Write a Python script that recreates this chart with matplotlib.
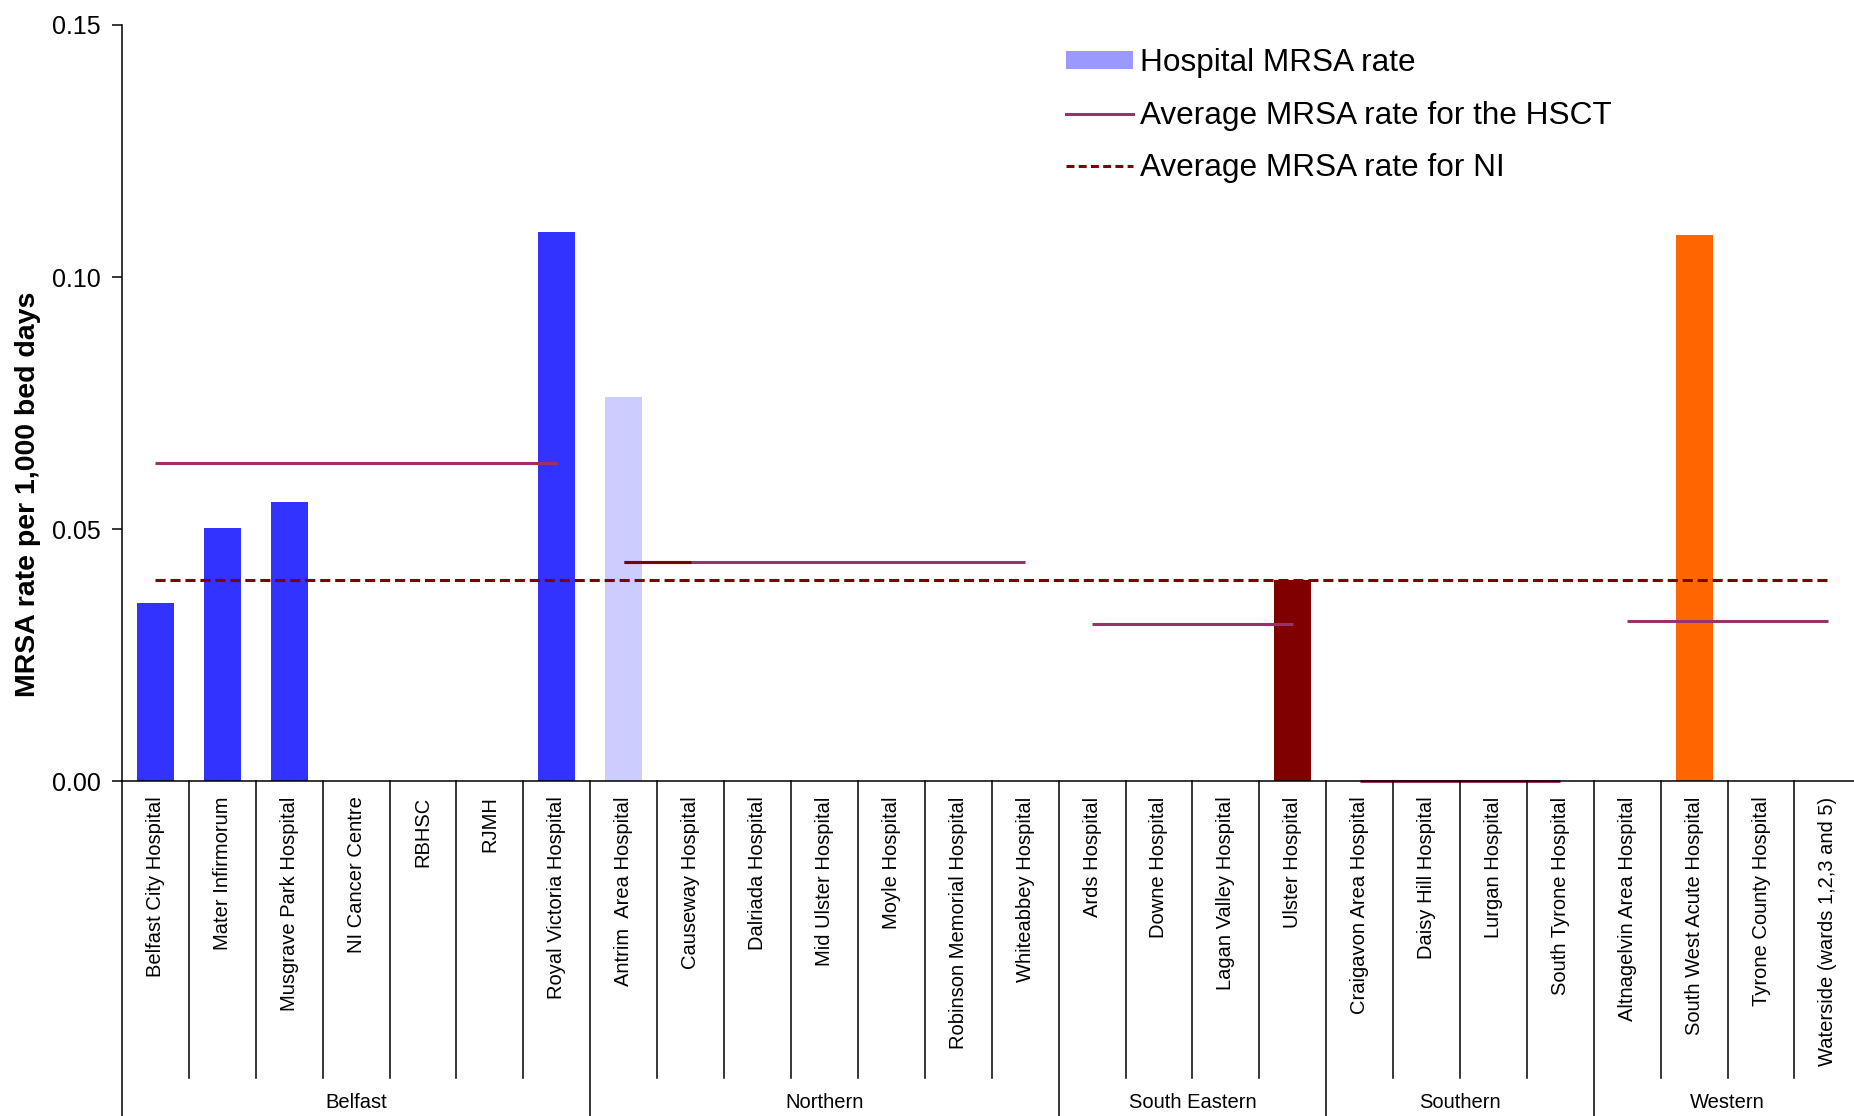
import matplotlib
matplotlib.use('Agg')
import matplotlib.pyplot as plt
from matplotlib.patches import Patch
from matplotlib.lines import Line2D
import numpy as np

plt.rcParams['font.family'] = ['Liberation Sans', 'DejaVu Sans']

# hospitals grouped by trust
trusts = ['Belfast', 'Northern', 'South Eastern', 'Southern', 'Western']
hospitals = [
    ['Belfast City Hospital', 'Mater Infirmorum', 'Musgrave Park Hospital',
     'NI Cancer Centre', 'RBHSC', 'RJMH', 'Royal Victoria Hospital'],
    ['Antrim  Area Hospital', 'Causeway Hospital', 'Dalriada Hospital',
     'Mid Ulster Hospital', 'Moyle Hospital', 'Robinson Memorial Hospital',
     'Whiteabbey Hospital'],
    ['Ards Hospital', 'Downe Hospital', 'Lagan Valley Hospital', 'Ulster Hospital'],
    ['Craigavon Area Hospital', 'Daisy Hill Hospital', 'Lurgan Hospital',
     'South Tyrone Hospital'],
    ['Altnagelvin Area Hospital', 'South West Acute Hospital',
     'Tyrone County Hospital', 'Waterside (wards 1,2,3 and 5)'],
]
# MRSA rate per 1,000 bed days
rates = [
    [0.0354, 0.0502, 0.0553, 0, 0, 0, 0.1090],
    [0.0763, 0, 0, 0, 0, 0, 0],
    [0, 0, 0, 0.0400],
    [0, 0, 0, 0],
    [0, 0.1083, 0, 0],
]
hsct_avg = [0.0631, 0.0435, 0.0312, 0.0, 0.0318]
ni_avg = 0.0399

trust_colors = ['#3333FF', '#CCCCFF', '#800000', '#993366', '#FF6600']
hsct_color = '#993366'
ni_color = '#800000'

# flatten
names = [h for grp in hospitals for h in grp]
values = [v for grp in rates for v in grp]
bar_colors = [trust_colors[i] for i, grp in enumerate(hospitals) for _ in grp]
n = len(names)
x = np.arange(n) + 0.5

fig = plt.figure(figsize=(18.54, 11.16), dpi=100)
W, H = 1854, 1116
ax_left, ax_bottom_px, ax_top_px = 122, 781.3, 25
cat_w = 66.9
ax = fig.add_axes([ax_left / W, 1 - ax_bottom_px / H, n * cat_w / W,
                   (ax_bottom_px - ax_top_px) / H])
ax_h = ax_bottom_px - ax_top_px

ax.bar(x, values, width=0.55, color=bar_colors, zorder=2)

# trust averages
start = 0
for i, grp in enumerate(hospitals):
    xs = x[start:start + len(grp)]
    ax.plot([xs[0], xs[-1]], [hsct_avg[i]] * 2, color=hsct_color, lw=2.2,
            zorder=3 if hsct_avg[i] > 0 else 1, clip_on=False,
            solid_capstyle='butt')
    start += len(grp)
# first segment of the Northern line is drawn darker
ax.plot([x[7], x[8]], [hsct_avg[1]] * 2, color='#800000', lw=2.2, zorder=3,
        solid_capstyle='butt')

# NI average
ax.plot([x[0], x[-1]], [ni_avg] * 2, color=ni_color, lw=2.2,
        dashes=(3.3, 1.6), zorder=4)

ax.set_xlim(0, n)
ax.set_ylim(0, 0.15)
ax.set_yticks([0, 0.05, 0.10, 0.15])
ax.set_yticklabels(['0.00', '0.05', '0.10', '0.15'], fontsize=18)
ax.tick_params(axis='y', length=7.2, width=1.1, pad=8)
ax.set_xticks(x)
ax.set_xticklabels(names, rotation=90, fontsize=14.5)
ax.tick_params(axis='x', length=0, pad=11)
for s in ['top', 'right']:
    ax.spines[s].set_visible(False)
ax.spines['left'].set_linewidth(1.1)
ax.spines['bottom'].set_linewidth(1.1)
ax.spines['bottom'].set_zorder(2.5)

# category separators and trust group boundaries
trans = ax.get_xaxis_transform()
inner_low = -(1078 - ax_bottom_px) / ax_h
outer_low = -(1120 - ax_bottom_px) / ax_h
bounds = np.cumsum([0] + [len(g) for g in hospitals])
for b in range(n + 1):
    low = outer_low if b in bounds else inner_low
    ax.plot([b, b], [0, low], color='black', lw=1.1, transform=trans,
            clip_on=False)

label_y = -(1103 - ax_bottom_px) / ax_h
for i, t in enumerate(trusts):
    cx = (bounds[i] + bounds[i + 1]) / 2
    ax.text(cx, label_y, t, transform=trans, ha='center', va='center',
            fontsize=14.5)

fig.text(28 / W, 1 - 494 / H, 'MRSA rate per 1,000 bed days', rotation=90,
         ha='center', va='center', fontsize=20.5, fontweight='bold')

handles = [
    Patch(facecolor='#9999FF', edgecolor='none', label='Hospital MRSA rate'),
    Line2D([0], [0], color=hsct_color, lw=2.2,
           label='Average MRSA rate for the HSCT'),
    Line2D([0], [0], color=ni_color, lw=2.2, dashes=(2.6, 1.4),
           label='Average MRSA rate for NI'),
]
fig.legend(handles=handles, loc='upper left',
           bbox_to_anchor=(1066 / W, 1 - 48 / H), frameon=False,
           fontsize=22.7, handlelength=2.12, handletextpad=0.23,
           handleheight=0.5, labelspacing=0.72, borderpad=0,
           borderaxespad=0)

fig.savefig('out.png', dpi=100)
